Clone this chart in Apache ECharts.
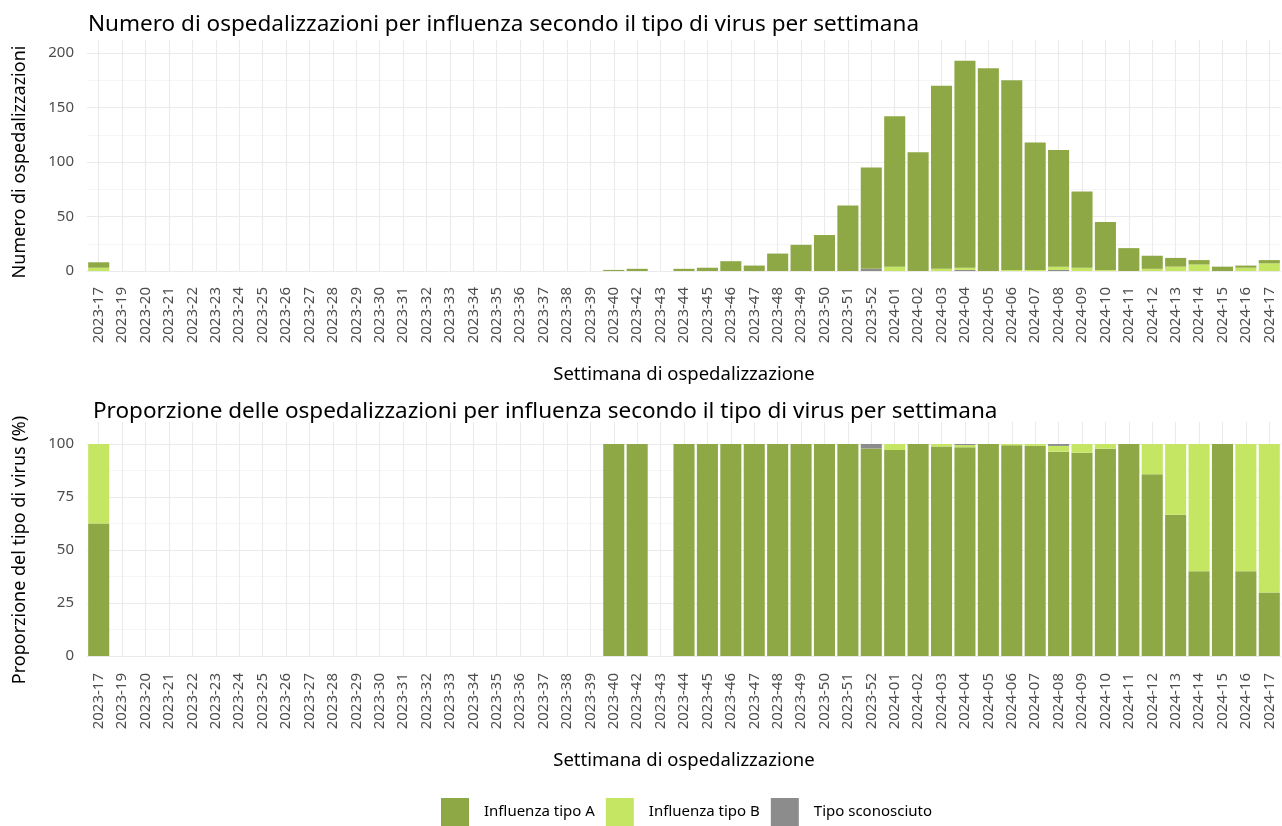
<!DOCTYPE html>
<html>
<head>
<meta charset="utf-8">
<script src="https://cdn.jsdelivr.net/npm/echarts@6/dist/echarts.min.js"></script>
<style>
  html, body { margin: 0; padding: 0; background: #fff; }
  #chart { width: 1282px; height: 826px; }
</style>
</head>
<body>
<div id="chart"></div>
<script>
// settimane (etichette asse x)
var settimane = ['2023-17', '2023-19', '2023-20', '2023-21', '2023-22', '2023-23', '2023-24', '2023-25',
    '2023-26', '2023-27', '2023-28', '2023-29', '2023-30', '2023-31', '2023-32', '2023-33', '2023-34',
    '2023-35', '2023-36', '2023-37', '2023-38', '2023-39', '2023-40', '2023-42', '2023-43', '2023-44',
    '2023-45', '2023-46', '2023-47', '2023-48', '2023-49', '2023-50', '2023-51', '2023-52', '2024-01',
    '2024-02', '2024-03', '2024-04', '2024-05', '2024-06', '2024-07', '2024-08', '2024-09', '2024-10',
    '2024-11', '2024-12', '2024-13', '2024-14', '2024-15', '2024-16', '2024-17'];

// numero di ospedalizzazioni per tipo di virus
var tipoA = [5, 0, 0, 0, 0, 0, 0, 0, 0, 0, 0, 0, 0, 0, 0, 0, 0, 0, 0, 0, 0, 0,
    1, 2, 0, 2, 3, 9, 5, 16, 24, 33, 60, 93,
    138, 109, 168, 190, 186, 174, 117, 107, 70, 44, 21, 12, 8, 4, 4, 2, 3];
var tipoB = [3, 0, 0, 0, 0, 0, 0, 0, 0, 0, 0, 0, 0, 0, 0, 0, 0, 0, 0, 0, 0, 0,
    0, 0, 0, 0, 0, 0, 0, 0, 0, 0, 0, 0,
    4, 0, 2, 2, 0, 1, 1, 3, 3, 1, 0, 2, 4, 6, 0, 3, 7];
var tipoSconosciuto = [0, 0, 0, 0, 0, 0, 0, 0, 0, 0, 0, 0, 0, 0, 0, 0, 0, 0, 0, 0, 0, 0,
    0, 0, 0, 0, 0, 0, 0, 0, 0, 0, 0, 2,
    0, 0, 0, 1, 0, 0, 0, 1, 0, 0, 0, 0, 0, 0, 0, 0, 0];

var ticksNumero = [0, 50, 100, 150, 200];
var ticksProporzione = [0, 25, 50, 75, 100];

var nomi = ['Influenza tipo A', 'Influenza tipo B', 'Tipo sconosciuto'];
var colori = ['#8fa846', '#c5e663', '#8c8c8c'];

// proporzioni (%)
function proporzione(arr) {
    return arr.map(function (v, i) {
        var tot = tipoA[i] + tipoB[i] + tipoSconosciuto[i];
        return tot > 0 ? v / tot * 100 : null;
    });
}

var font = 'Noto Sans';
var gridColor = '#ebebeb';

function xAxisFor(gridIndex, offset, tickLen) {
    return {
        type: 'category',
        gridIndex: gridIndex,
        data: settimane,
        offset: offset,
        name: 'Settimana di ospedalizzazione',
        nameLocation: 'middle',
        nameGap: 84,
        nameTextStyle: { fontFamily: font, fontSize: 18.5, color: '#000' },
        axisLine: { show: false },
        axisTick: {
            show: true, alignWithLabel: true, inside: true, length: tickLen,
            lineStyle: { color: gridColor, width: 1.1 }
        },
        axisLabel: {
            rotate: 90, interval: 0, margin: 6,
            fontFamily: font, fontSize: 15, color: '#4d4d4d'
        },
        splitLine: { show: false }
    };
}

function yAxisFor(gridIndex, max, name, ticks) {
    return {
        type: 'value',
        gridIndex: gridIndex,
        min: 0,
        max: max,
        interval: ticks[1] - ticks[0],
        name: name,
        nameLocation: 'middle',
        nameGap: 58,
        nameTextStyle: { fontFamily: font, fontSize: 18, color: '#000' },
        axisLine: { show: false },
        axisTick: { show: false },
        axisLabel: { margin: 13, fontFamily: font, fontSize: 15, color: '#4d4d4d' },
        splitLine: { show: true, lineStyle: { color: gridColor, width: 1.1 } },
        minorTick: { show: false, splitNumber: 2 },
        minorSplitLine: { show: true, lineStyle: { color: '#f2f2f2', width: 0.8 } }
    };
}

var myChart = echarts.init(document.getElementById('chart'));

var option = {
    animation: false,
    backgroundColor: '#fff',
    title: [{
        text: 'Numero di ospedalizzazioni per influenza secondo il tipo di virus per settimana',
        left: 83, top: 8,
        textStyle: { fontFamily: font, fontSize: 22.5, fontWeight: 'normal', color: '#000' }
    }, {
        text: 'Proporzione delle ospedalizzazioni per influenza secondo il tipo di virus per settimana',
        left: 88, top: 395,
        textStyle: { fontFamily: font, fontSize: 22.5, fontWeight: 'normal', color: '#000' }
    }],
    legend: {
        data: nomi,
        top: 798,
        left: 441,
        padding: 0,
        itemWidth: 28,
        itemHeight: 28,
        itemGap: 11,
        icon: 'rect',
        textStyle: { fontFamily: font, fontSize: 15, color: '#000', padding: [0, 0, 0, 10] }
    },
    grid: [
        { left: 87, right: 1, top: 53, height: 218 },
        { left: 87, right: 1, top: 444, height: 212 }
    ],
    xAxis: [xAxisFor(0, 10, 231), xAxisFor(1, 11, 234)],
    yAxis: [
        yAxisFor(0, 200, 'Numero di ospedalizzazioni', ticksNumero),
        yAxisFor(1, 100, 'Proporzione del tipo di virus (%)', ticksProporzione)
    ],
    series: [
        // grafico superiore: sconosciuto in basso, poi B, poi A
        { name: nomi[2], type: 'bar', stack: 'n', xAxisIndex: 0, yAxisIndex: 0,
          barCategoryGap: '10%', itemStyle: { color: colori[2] }, data: tipoSconosciuto },
        { name: nomi[1], type: 'bar', stack: 'n', xAxisIndex: 0, yAxisIndex: 0,
          barCategoryGap: '10%', itemStyle: { color: colori[1] }, data: tipoB },
        { name: nomi[0], type: 'bar', stack: 'n', xAxisIndex: 0, yAxisIndex: 0,
          barCategoryGap: '10%', itemStyle: { color: colori[0] }, data: tipoA },
        // grafico inferiore: A in basso, poi B, poi sconosciuto
        { name: nomi[0], type: 'bar', stack: 'p', xAxisIndex: 1, yAxisIndex: 1,
          barCategoryGap: '10%', itemStyle: { color: colori[0] }, data: proporzione(tipoA) },
        { name: nomi[1], type: 'bar', stack: 'p', xAxisIndex: 1, yAxisIndex: 1,
          barCategoryGap: '10%', itemStyle: { color: colori[1] }, data: proporzione(tipoB) },
        { name: nomi[2], type: 'bar', stack: 'p', xAxisIndex: 1, yAxisIndex: 1,
          barCategoryGap: '10%', itemStyle: { color: colori[2] }, data: proporzione(tipoSconosciuto) }
    ]
};
myChart.setOption(option);
</script>
</body>
</html>
